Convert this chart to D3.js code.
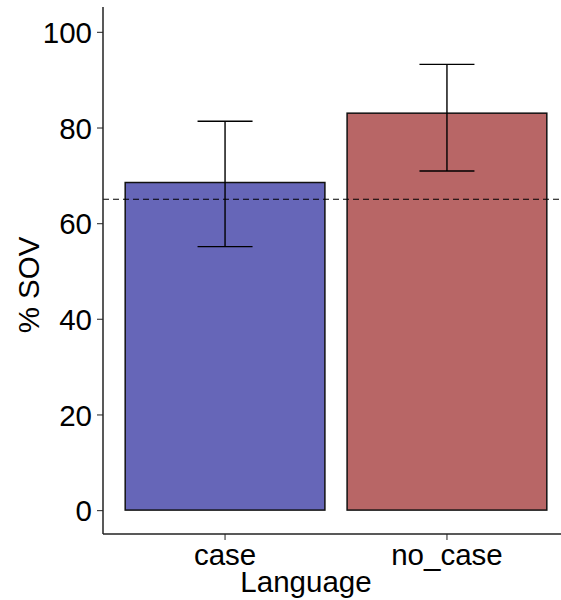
<!DOCTYPE html>
<html>
<head>
<meta charset="utf-8">
<script src="https://cdn.jsdelivr.net/npm/d3@7"></script>
<style>
  body { margin: 0; background: #fff; }
  text { font-family: "Liberation Sans", Arial, sans-serif; }
</style>
</head>
<body>
<script>
const width = 561;
const height = 600;

const languages = ["case", "no_case"];
const sovMeans = [68.5, 83.0];
const sovLower = [55.1, 70.9];
const sovUpper = [81.3, 93.2];
const baseline = 65;
const yTicks = [0, 20, 40, 60, 80, 100];
const barColors = ["#6666b8", "#b86666"];

const svg = d3.select("body").append("svg")
  .attr("width", width)
  .attr("height", height);

const x = d3.scaleBand()
  .domain(languages)
  .range([103, 569])
  .paddingInner(0.1)
  .paddingOuter(0.1);

const y = d3.scaleLinear()
  .domain([-5, 105.2])
  .range([534, 7]);

const data = languages.map((d, i) => ({
  lang: d,
  mean: sovMeans[i],
  lo: sovLower[i],
  hi: sovUpper[i],
  color: barColors[i],
}));

// bars
svg.selectAll(".bar")
  .data(data)
  .enter()
  .append("rect")
  .attr("class", "bar")
  .attr("x", (d) => x(d.lang))
  .attr("y", (d) => y(d.mean))
  .attr("width", x.bandwidth())
  .attr("height", (d) => y(0) - y(d.mean))
  .attr("fill", (d) => d.color)
  .attr("stroke", "#111")
  .attr("stroke-width", 1.5);

// error bars
const capHalf = 27.5;
const err = svg.selectAll(".err")
  .data(data)
  .enter()
  .append("g")
  .attr("class", "err")
  .attr("stroke", "#000")
  .attr("stroke-width", 1.4);
err.append("line")
  .attr("x1", (d) => x(d.lang) + x.bandwidth() / 2)
  .attr("x2", (d) => x(d.lang) + x.bandwidth() / 2)
  .attr("y1", (d) => y(d.lo))
  .attr("y2", (d) => y(d.hi));
err.append("line")
  .attr("x1", (d) => x(d.lang) + x.bandwidth() / 2 - capHalf)
  .attr("x2", (d) => x(d.lang) + x.bandwidth() / 2 + capHalf)
  .attr("y1", (d) => y(d.hi))
  .attr("y2", (d) => y(d.hi));
err.append("line")
  .attr("x1", (d) => x(d.lang) + x.bandwidth() / 2 - capHalf)
  .attr("x2", (d) => x(d.lang) + x.bandwidth() / 2 + capHalf)
  .attr("y1", (d) => y(d.lo))
  .attr("y2", (d) => y(d.lo));

// dashed reference line
svg.append("line")
  .attr("x1", 103)
  .attr("x2", width)
  .attr("y1", y(baseline))
  .attr("y2", y(baseline))
  .attr("stroke", "#000")
  .attr("stroke-width", 1.2)
  .attr("stroke-dasharray", "6,4");

// axes
const fontSize = "29.5px";

const yAxis = svg.append("g")
  .attr("transform", "translate(103,0)")
  .call(d3.axisLeft(y).tickValues(yTicks).tickSize(6).tickPadding(5));
yAxis.select(".domain").remove();
yAxis.append("line")
  .attr("x1", 0).attr("x2", 0)
  .attr("y1", 7).attr("y2", 534)
  .attr("stroke", "#222")
  .attr("stroke-width", 1.5);
yAxis.selectAll(".tick line").attr("stroke", "#444").attr("stroke-width", 1.2);
yAxis.selectAll(".tick text")
  .attr("fill", "#000")
  .attr("dy", "0.36em")
  .style("font-size", fontSize)
  .style("font-family", "'Liberation Sans', Arial, sans-serif");

const xAxis = svg.append("g")
  .attr("transform", "translate(0,534)")
  .call(d3.axisBottom(x).tickSize(6).tickPadding(4));
xAxis.select(".domain").remove();
xAxis.append("line")
  .attr("x1", 103).attr("x2", width)
  .attr("y1", 0).attr("y2", 0)
  .attr("stroke", "#222")
  .attr("stroke-width", 1.5);
xAxis.selectAll(".tick line").attr("stroke", "#444").attr("stroke-width", 1.2);
xAxis.selectAll(".tick text")
  .attr("fill", "#000")
  .attr("y", 31)
  .attr("dy", 0)
  .style("font-size", fontSize)
  .style("font-family", "'Liberation Sans', Arial, sans-serif");

// axis titles
svg.append("text")
  .attr("x", 306)
  .attr("y", 592)
  .attr("text-anchor", "middle")
  .style("font-size", fontSize)
  .text("Language");

svg.append("text")
  .attr("transform", "translate(39,285) rotate(-90)")
  .attr("text-anchor", "middle")
  .style("font-size", fontSize)
  .text("% SOV");
</script>
</body>
</html>
